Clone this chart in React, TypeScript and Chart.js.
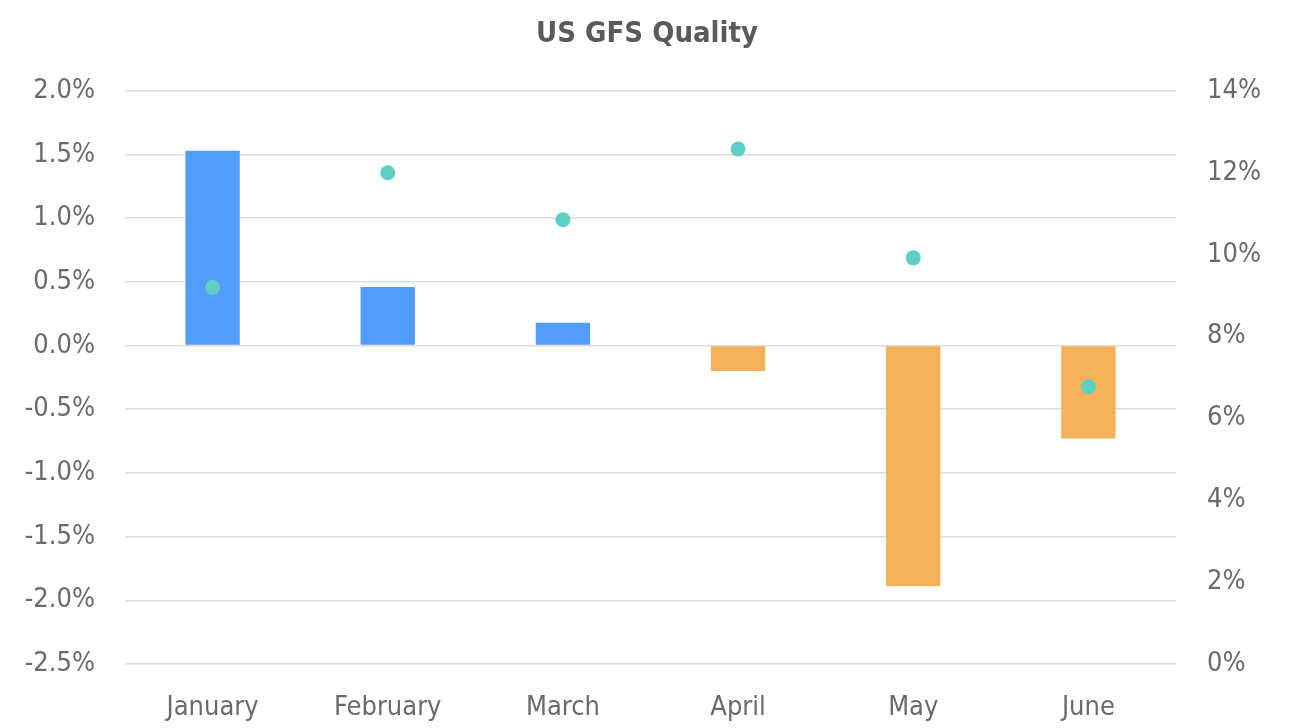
import React, { useEffect, useRef } from "react";
import { Chart, registerables } from "chart.js";

Chart.register(...registerables);

const categories = ["January", "February", "March", "April", "May", "June"];
const qualityChange = [1.53, 0.46, 0.18, -0.2, -1.89, -0.73];
const qualityLevel = [9.2, 12.0, 10.85, 12.58, 9.92, 6.77];
const leftTicks = { min: -2.5, max: 2.0, step: 0.5 };
const rightTicks = { min: 0, max: 14, step: 2 };

const BLUE = "#529dfb";
const ORANGE = "#f5b157";
const TEAL = "#5dd0c5";
const FONT = "'DejaVu Sans Condensed', 'DejaVu Sans', sans-serif";
const TEXT = "#6a6a6a";

export default function App() {
  const ref = useRef<HTMLCanvasElement | null>(null);
  useEffect(() => {
    if (!ref.current) return;
    const chart = new Chart(ref.current, {
      type: "bar",
      data: {
        labels: categories,
        datasets: [
          {
            type: "line",
            label: "Level",
            data: qualityLevel,
            yAxisID: "y1",
            showLine: false,
            pointRadius: 7.5,
            pointBackgroundColor: TEAL,
            pointBorderColor: TEAL,
            pointBorderWidth: 0,
            order: 0,
          } as any,
          {
            type: "bar",
            label: "Change",
            data: qualityChange,
            yAxisID: "y",
            backgroundColor: qualityChange.map((v) => (v >= 0 ? BLUE : ORANGE)),
            borderWidth: 0,
            categoryPercentage: 1,
            barPercentage: 0.31,
            order: 1,
          },
        ],
      },
      options: {
        animation: false,
        responsive: true,
        maintainAspectRatio: false,
        layout: { padding: 0 },
        plugins: {
          legend: { display: false },
          tooltip: { enabled: false },
          title: {
            display: true,
            text: "US GFS Quality",
            color: "#5a5a5a",
            font: { family: FONT, size: 29, weight: "bold" },
            padding: { top: 17, bottom: 39 },
          },
        },
        scales: {
          x: {
            grid: { display: false, drawTicks: false },
            border: { display: false },
            ticks: { color: TEXT, font: { family: FONT, size: 27 }, padding: 28 },
            afterFit: (s: any) => {
              s.height = 64;
            },
          },
          y: {
            position: "left",
            min: leftTicks.min,
            max: leftTicks.max,
            grid: { color: "#dcdcdc", lineWidth: 1.5, drawTicks: false },
            border: { display: false },
            ticks: {
              stepSize: leftTicks.step,
              color: TEXT,
              font: { family: FONT, size: 27 },
              padding: 30,
              callback: (v: any) => Number(v).toFixed(1) + "%",
            },
            afterFit: (s: any) => {
              s.width = 125;
            },
          },
          y1: {
            position: "right",
            min: rightTicks.min,
            max: rightTicks.max,
            grid: { display: false, drawTicks: false },
            border: { display: false },
            ticks: {
              stepSize: rightTicks.step,
              color: TEXT,
              font: { family: FONT, size: 27 },
              padding: 31,
              callback: (v: any) => Number(v).toFixed(0) + "%",
            },
            afterFit: (s: any) => {
              s.width = 118;
            },
          },
        },
      },
    });
    return () => chart.destroy();
  }, []);
  return (
    <div style={{ position: "fixed", left: 0, top: 0, width: 1294, height: 728, background: "#fff" }}>
      <canvas ref={ref} />
    </div>
  );
}
